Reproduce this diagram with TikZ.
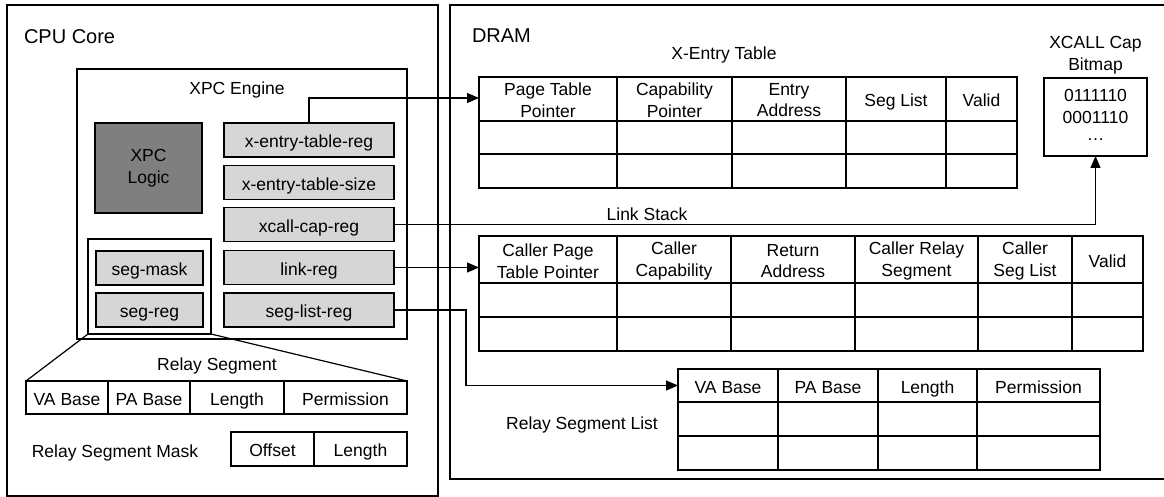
\documentclass[tikz,border=0pt]{standalone}
\usepackage{fontspec}
\setmainfont{Liberation Sans}
\usetikzlibrary{arrows.meta}
\definecolor{regfill}{HTML}{D6D6D6}
\definecolor{logicfill}{HTML}{7F7F7F}
\begin{document}
\begin{tikzpicture}[x=1pt,y=-1pt,line width=1.2pt,
  every node/.style={font=\fontsize{17.5}{21.5}\selectfont, inner sep=0pt, outer sep=0pt,
    text height=15.6pt, text depth=0pt},
  title/.style={font=\fontsize{20}{24}\selectfont, anchor=west, text height=14.6pt, text depth=0pt},
  frame/.style={draw, anchor=north west, text height={}, text depth={}},
  reg/.style={draw, fill=regfill, minimum width=170, minimum height=34},
  sreg/.style={draw, fill=regfill, minimum width=107, minimum height=34},
  hdr/.style={align=center, text height={}, text depth={}},
  arr/.style={-{Triangle[length=12pt,width=10pt]}}]
\path[use as bounding box, clip] (0,0) rectangle (1164,497);

% ---------- CPU Core ----------
\node[frame, minimum width=431, minimum height=491] (cpu) at (7,5) {};
\node[title] (cputitle) at (24,36) {CPU Core};
\node[frame, minimum width=330, minimum height=270] (xpc) at (77,69) {};
\node (xpctitle) at (237,87) {XPC Engine};
\node[hdr, draw, fill=logicfill, minimum width=107, minimum height=90] (logic) at (148.5,168) {XPC\\Logic};

\node[reg] (xreg) at (309,140) {x-entry-table-reg};
\node[reg] (xsize) at (309,182.5) {x-entry-table-size};
\node[reg] (xcall) at (309,224.5) {xcall-cap-reg};
\node[reg] (linkreg) at (309,267.5) {link-reg};
\node[reg] (seglist) at (309,310) {seg-list-reg};

\node[frame, minimum width=123, minimum height=95] (segbox) at (88,239) {};
\node[sreg] (segmask) at (149.5,268) {seg-mask};
\node[sreg] (segreg) at (149.5,310) {seg-reg};

% Relay Segment
\node (rstitle) at (217,363) {Relay Segment};
\node[frame, minimum width=381, minimum height=33] (rst) at (26,381) {};
\foreach \x in {108,190,284} \draw (\x,381) -- (\x,414);
\node (rs1) at (67,397.5) {VA Base};
\node (rs2) at (149,397.5) {PA Base};
\node (rs3) at (237,397.5) {Length};
\node (rs4) at (345.5,397.5) {Permission};
\draw (segbox.south west) -- (rst.north west);
\draw (segbox.south east) -- (rst.north east);

% Relay Segment Mask
\node (rsmtitle) at (115,450) {Relay Segment Mask};
\node[frame, minimum width=176, minimum height=34] (rsm) at (231,432) {};
\draw (314,432) -- (314,466);
\node (rsm1) at (272.5,449) {Offset};
\node (rsm2) at (360.5,449) {Length};

% ---------- DRAM ----------
\node[frame, minimum width=720, minimum height=474] (dram) at (450,5) {};
\node[title] (dramtitle) at (472,35) {DRAM};

% X-Entry Table
\node (xettitle) at (724,52) {X-Entry Table};
\node[frame, minimum width=538, minimum height=111] (xet) at (479,77) {};
\foreach \x in {617,732,846,946} \draw (\x,77) -- (\x,188);
\foreach \y in {121,154} \draw (479,\y) -- (1017,\y);
\node[hdr] (xet1) at (548,100) {Page Table\\Pointer};
\node[hdr] (xet2) at (674.5,100) {Capability\\Pointer};
\node[hdr] (xet3) at (789,100) {Entry\\Address};
\node (xet4) at (896,99) {Seg List};
\node (xet5) at (981.5,99) {Valid};

% XCALL Cap Bitmap
\node[hdr] (bmtitle) at (1095.5,55) {XCALL Cap\\Bitmap};
\node[frame, anchor=center, minimum width=103, minimum height=78] (bitmap) at (1095.5,117) {};
\node[hdr] (bits) at (1095.5,117) {0111110\\0001110\\\raisebox{4pt}{\dots}};

% Link Stack
\node (lstitle) at (647,213) {Link Stack};
\node[frame, minimum width=664, minimum height=115] (ls) at (479,236) {};
\foreach \x in {617,731,855,978,1072} \draw (\x,236) -- (\x,351);
\foreach \y in {283,317} \draw (479,\y) -- (1143,\y);
\node[hdr] (ls1) at (548,261) {Caller Page\\Table Pointer};
\node[hdr] (ls2) at (674,261) {Caller\\Capability};
\node[hdr] (ls3) at (793,261) {Return\\Address};
\node[hdr] (ls4) at (916.5,261) {Caller Relay\\Segment};
\node[hdr] (ls5) at (1025,261) {Caller\\Seg List};
\node (ls6) at (1107.5,260) {Valid};

% Relay Segment List
\node (rsltitle) at (582,422) {Relay Segment List};
\node[frame, minimum width=422, minimum height=101] (rsl) at (678,369) {};
\foreach \x in {778,878,977} \draw (\x,369) -- (\x,470);
\foreach \y in {402,436} \draw (678,\y) -- (1100,\y);
\node (rsl1) at (728,385.5) {VA Base};
\node (rsl2) at (828,385.5) {PA Base};
\node (rsl3) at (927.5,385.5) {Length};
\node (rsl4) at (1038.5,385.5) {Permission};

% ---------- Connectors ----------
\coordinate (xetin) at (479,98);
\draw[arr] (xreg.north) |- (xetin);
\draw[arr] (xcall.east) -| (bitmap.south);
\draw[arr] (linkreg.east) -- (linkreg.east -| ls.west);
\coordinate (turn) at (466,310);
\draw[arr] (seglist.east) -- (turn) |- (rsl.west |- rsl1);
\end{tikzpicture}
\end{document}
